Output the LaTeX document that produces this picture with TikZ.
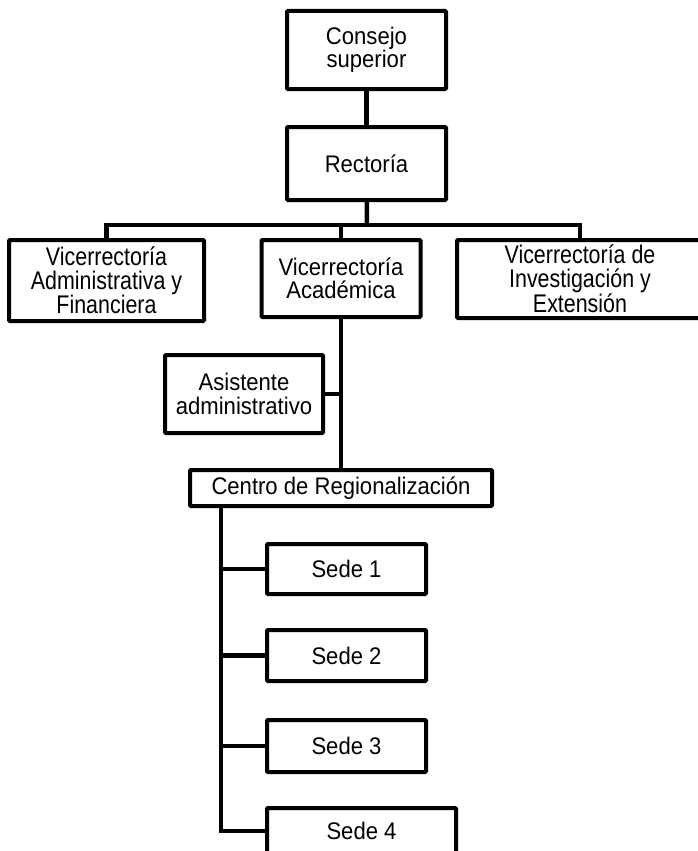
\documentclass[tikz,border=0pt]{standalone}
\usepackage{fontspec}
\setmainfont{Liberation Sans}[FakeStretch=0.92]
\newfontfamily\tallfont{Liberation Sans}[FakeStretch=0.84]
\usepackage{tikz}

\begin{document}
\begin{tikzpicture}[
  x=1pt, y=-1pt,
  unit/.style={draw, line width=4pt, rounded corners=1pt, align=center, inner sep=0pt, font=\fontsize{24}{23.5}\selectfont},
  tallunit/.style={unit, font=\tallfont\fontsize{25.5}{24}\selectfont},
  line/.style={line width=4.5pt}
]
\useasboundingbox (0,0) rectangle (697,851);

\node[unit, minimum width=159pt, minimum height=78pt] (consejo) at (366.5,50) {Consejo\\superior};
\node[unit, minimum width=159pt, minimum height=73pt] (rectoria) at (366.5,163.5) {Rectoría};
\node[tallunit, minimum width=195pt, minimum height=81pt] (admin) at (106.5,280.5) {Vicerrectoría\\Administrativa y\\Financiera};
\node[unit, minimum width=159pt, minimum height=77pt] (academica) at (341,278.5) {Vicerrectoría\\Académica};
\node[tallunit, minimum width=246pt, minimum height=78pt] (investigacion) at (580,279) {Vicerrectoría de\\Investigación y\\Extensión};
\node[unit, minimum width=158pt, minimum height=78pt] (asistente) at (244,394) {Asistente\\administrativo};
\node[unit, minimum width=302pt, minimum height=36pt] (centro) at (341,488) {Centro de Regionalización};
\node[unit, minimum width=159pt, minimum height=50pt] (sede1) at (346.5,569) {Sede 1};
\node[unit, minimum width=159pt, minimum height=51pt] (sede2) at (346.5,655.5) {Sede 2};
\node[unit, minimum width=159pt, minimum height=52pt] (sede3) at (346.5,746) {Sede 3};
\node[unit, minimum width=189pt, minimum height=46pt] (sede4) at (361.5,831) {Sede 4};

\coordinate (bus) at (367,225);
\coordinate (trunk) at (221,508);

\draw[line] (consejo) -- (rectoria);
\draw[line] (rectoria) -- (bus);
\draw[line] (admin.north) |- (bus) -| (investigacion.north);
\draw[line] (academica.north) -- (academica.north |- bus);
\draw[line] (academica) -- (centro);
\draw[line] (asistente.east) -- (asistente.east -| academica.south);
\draw[line] (trunk) |- (sede4.west);
\foreach \i in {1,2,3}
  \draw[line] (trunk |- sede\i.west) -- (sede\i.west);
\end{tikzpicture}
\end{document}
